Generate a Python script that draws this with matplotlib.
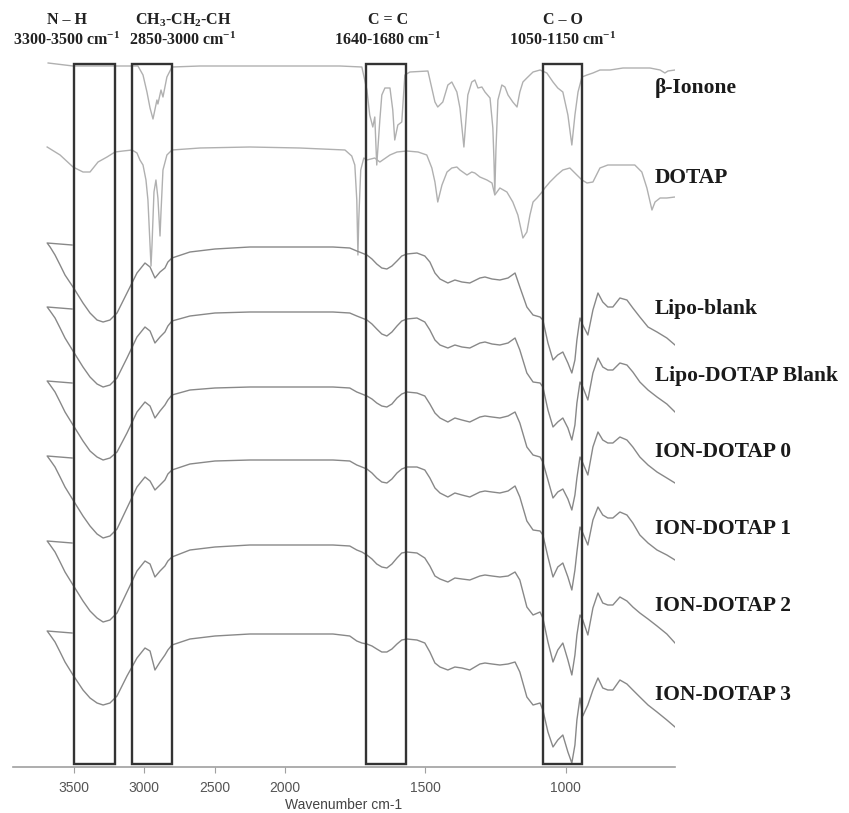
import numpy as np
import matplotlib
matplotlib.use("Agg")
import matplotlib.pyplot as plt
import matplotlib.transforms as mtransforms
from matplotlib.patches import Rectangle

# --- FTIR spectra, stacked (intensity in arbitrary offset units) ---
ionone_wn = [3684, 3507, 3315, 3045, 3009, 2981, 2959, 2938, 2910, 2903, 2881, 2867, 2839, 2803,
             2604, 2249, 1947, 1804, 1726, 1708, 1698, 1687, 1680, 1673, 1662, 1655, 1644, 1626,
             1616, 1609, 1598, 1584, 1573, 1555, 1491, 1466, 1456, 1438, 1420, 1406, 1388, 1377,
             1363, 1349, 1335, 1324, 1313, 1299, 1288, 1270, 1260, 1256, 1253, 1249, 1242, 1228,
             1217, 1206, 1189, 1174, 1164, 1153, 1139, 1117, 1092, 1068, 1046, 1029, 1011, 993,
             979, 968, 957, 943, 925, 904, 879, 843, 797, 747, 701, 665, 648, 637, 612]
ionone_val = [704, 701, 701, 701, 692, 675, 659, 648, 667, 663, 677, 670, 690, 700,
              701, 701, 701, 701, 700, 677, 652, 640, 650, 602, 647, 672, 679, 679,
              657, 627, 642, 645, 692, 695, 696, 665, 660, 665, 682, 685, 675, 659,
              620, 672, 685, 687, 679, 680, 675, 669, 639, 607, 574, 617, 667, 682,
              680, 672, 665, 660, 675, 685, 689, 695, 697, 694, 685, 679, 675, 652,
              622, 652, 675, 690, 692, 694, 697, 697, 699, 699, 699, 697, 694, 696, 697]

dotap_wn = [3691, 3599, 3507, 3436, 3386, 3329, 3265, 3208, 3151, 3087, 3052, 3031, 3009, 2988,
            2974, 2959, 2952, 2945, 2931, 2917, 2903, 2888, 2881, 2867, 2839, 2803, 2604, 2249,
            1947, 1786, 1762, 1751, 1744, 1740, 1737, 1730, 1719, 1708, 1680, 1662, 1626, 1601,
            1566, 1526, 1495, 1477, 1466, 1456, 1441, 1423, 1406, 1388, 1377, 1367, 1352, 1335,
            1324, 1306, 1281, 1263, 1253, 1235, 1210, 1189, 1171, 1153, 1139, 1128, 1117, 1103,
            1085, 1075, 1057, 1032, 1011, 986, 961, 943, 925, 904, 879, 851, 797, 755, 730,
            712, 694, 683, 665, 641, 612]
dotap_val = [620, 612, 600, 595, 595, 605, 610, 615, 616, 617, 614, 607, 602, 587,
             567, 522, 501, 522, 575, 587, 569, 531, 555, 597, 612, 617, 619, 620,
             619, 617, 611, 602, 567, 512, 547, 597, 609, 607, 609, 605, 612, 615,
             616, 615, 612, 599, 585, 565, 582, 595, 599, 600, 597, 595, 592, 595,
             594, 590, 587, 584, 572, 579, 575, 565, 552, 529, 535, 552, 565, 569,
             575, 579, 585, 592, 597, 599, 592, 587, 584, 585, 599, 602, 602, 602, 595,
             579, 557, 565, 569, 569, 570]

# shared wavenumber grid of the liposome samples
lipo_wn = [3514, 3691, 3670, 3635, 3599, 3564, 3507, 3436, 3386, 3336,
           3293, 3244, 3194, 3123, 3052, 2995, 2959, 2924, 2888, 2853,
           2832, 2803, 2675, 2497, 2249, 1947, 1829, 1769, 1744, 1726,
           1708, 1690, 1673, 1655, 1637, 1619, 1601, 1584, 1566, 1530,
           1502, 1484, 1466, 1448, 1420, 1395, 1370, 1342, 1306, 1288,
           1263, 1235, 1206, 1181, 1164, 1139, 1117, 1092, 1082, 1064,
           1046, 1029, 1011, 993, 979, 968, 961, 950, 940, 922,
           904, 886, 869, 851, 833, 808, 783, 762, 737, 708,
           676, 641, 612]
lipo_blank = [522, 524, 520, 512, 502, 492, 480, 464, 454, 447,
              445, 447, 454, 474, 494, 504, 500, 489, 495, 499,
              505, 509, 515, 518, 520, 520, 520, 519, 516, 514,
              512, 508, 503, 499, 498, 501, 506, 511, 513, 514,
              511, 505, 494, 488, 484, 487, 485, 484, 489, 490,
              488, 487, 489, 494, 480, 460, 452, 450, 447, 424,
              407, 412, 415, 404, 394, 407, 427, 449, 442, 432,
              457, 474, 465, 460, 460, 469, 467, 459, 450, 440,
              435, 429, 422]
lipo_dotap_blank = [458, 460, 456, 449, 439, 429, 416, 400, 390, 383,
                    380, 382, 389, 409, 430, 440, 436, 424, 430, 435,
                    441, 446, 451, 454, 455, 455, 455, 454, 451, 449,
                    447, 443, 438, 433, 431, 435, 441, 446, 448, 449,
                    445, 437, 427, 422, 419, 422, 420, 419, 424, 425,
                    423, 422, 424, 429, 417, 394, 385, 384, 380, 357,
                    340, 345, 349, 339, 327, 342, 364, 385, 380, 367,
                    394, 409, 400, 397, 397, 404, 402, 395, 385, 377,
                    370, 363, 355]
ion_dotap_0 = [384, 386, 382, 375, 365, 355, 342, 326, 316, 310,
               307, 309, 315, 334, 355, 365, 361, 349, 356, 362,
               367, 372, 377, 379, 380, 380, 380, 379, 375, 373,
               371, 368, 364, 361, 360, 363, 369, 373, 375, 374,
               371, 363, 354, 349, 345, 349, 347, 345, 350, 351,
               350, 349, 351, 355, 344, 320, 312, 310, 305, 287,
               269, 275, 278, 268, 257, 272, 289, 310, 304, 292,
               320, 335, 327, 324, 324, 330, 327, 320, 310, 302,
               295, 289, 284]
ion_dotap_1 = [309, 311, 307, 300, 290, 280, 267, 251, 241, 233,
               229, 231, 238, 259, 280, 290, 286, 277, 282, 287,
               293, 297, 303, 306, 307, 307, 307, 306, 302, 300,
               298, 294, 289, 285, 284, 288, 294, 298, 300, 300,
               297, 289, 279, 274, 270, 274, 272, 270, 275, 276,
               275, 274, 276, 281, 270, 246, 237, 236, 232, 210,
               190, 200, 204, 190, 177, 197, 215, 240, 234, 222,
               247, 260, 252, 249, 249, 255, 252, 244, 232, 224,
               217, 212, 207]
ion_dotap_2 = [224, 226, 222, 215, 205, 195, 182, 166, 156, 149,
               145, 147, 154, 175, 196, 206, 203, 190, 196, 201,
               206, 210, 217, 220, 222, 222, 222, 221, 217, 215,
               212, 208, 203, 200, 199, 203, 209, 214, 215, 214,
               209, 201, 191, 188, 185, 189, 188, 187, 191, 192,
               191, 190, 191, 195, 187, 160, 152, 155, 149, 125,
               105, 117, 124, 107, 92, 112, 132, 152, 147, 132,
               159, 174, 164, 162, 162, 170, 166, 160, 154, 148,
               141, 133, 124]
ion_dotap_3 = [134, 136, 132, 125, 115, 105, 92, 77, 69, 64,
               62, 64, 71, 91, 109, 119, 116, 97, 105, 112,
               117, 122, 128, 131, 133, 133, 133, 131, 126, 124,
               123, 121, 118, 115, 115, 118, 123, 127, 128, 127,
               124, 115, 104, 100, 97, 100, 99, 97, 103, 104,
               103, 102, 103, 105, 95, 70, 62, 64, 57, 35,
               20, 27, 32, 15, 4, 22, 47, 69, 51, 62,
               77, 89, 79, 77, 77, 87, 83, 77, 70, 62,
               55, 47, 40]

sample_names = ["β-Ionone", "DOTAP", "Lipo-blank", "Lipo-DOTAP Blank",
                "ION-DOTAP 0", "ION-DOTAP 1", "ION-DOTAP 2", "ION-DOTAP 3"]
label_levels = [679, 589, 458, 391, 315, 238, 161, 72]

# band regions (boxes) and their captions
band_names = ["N – H", "CH$_3$-CH$_2$-CH", "C = C", "C – O"]
band_ranges = ["3300-3500 cm$^{-1}$", "2850-3000 cm$^{-1}$",
               "1640-1680 cm$^{-1}$", "1050-1150 cm$^{-1}$"]
box_edges = [(3500, 3208), (3087, 2803), (1712, 1569), (1082, 943)]
caption_x = [3549, 2725, 1633, 1011]

ticks = [3500, 3000, 2500, 2000, 1500, 1000]

plt.rcParams["mathtext.fontset"] = "custom"
plt.rcParams["mathtext.rm"] = "Liberation Serif:bold"
plt.rcParams["mathtext.it"] = "Liberation Serif:italic:bold"
plt.rcParams["mathtext.bf"] = "Liberation Serif:bold"


def forward(x):
    x = np.asarray(x, dtype=float)
    return np.where(x > 2000, 2000 + (x - 2000) * 0.5, x)


def inverse(u):
    u = np.asarray(u, dtype=float)
    return np.where(u > 2000, 2000 + (u - 2000) * 2.0, u)


fig = plt.figure(figsize=(8.49, 8.13), dpi=100)
ax = fig.add_axes([13 / 849, 46 / 813, 662 / 849, 717 / 813])
ax.set_xscale("function", functions=(forward, inverse))
ax.set_xlim(3934, 612)
ax.set_ylim(0, 717)

top_color = "#b0b0b0"
low_color = "#888888"
ax.plot(ionone_wn, ionone_val, color=top_color, lw=1.0)
ax.plot(dotap_wn, dotap_val, color=top_color, lw=1.0)
for vals in [lipo_blank, lipo_dotap_blank, ion_dotap_0, ion_dotap_1, ion_dotap_2, ion_dotap_3]:
    ax.plot(lipo_wn, vals, color=low_color, lw=1.0)

for (hi, lo) in box_edges:
    ax.add_patch(Rectangle((lo, 3), hi - lo, 700, fill=False,
                           edgecolor="#333333", lw=1.7, zorder=3))

for name, rng, xc in zip(band_names, band_ranges, caption_x):
    ax.text(xc, 747, name, ha="center", va="center", fontsize=11.5,
            family="Liberation Serif", fontweight="bold", color="#222222")
    ax.text(xc, 727, rng, ha="center", va="center", fontsize=11.5,
            family="Liberation Serif", fontweight="bold", color="#222222")

trans = mtransforms.blended_transform_factory(ax.transAxes, ax.transData)
for name, lvl in zip(sample_names, label_levels):
    ax.text(0.97, lvl, name, transform=trans, ha="left", va="center",
            fontsize=15.5, family="Liberation Serif", fontweight="bold",
            color="#1a1a1a", clip_on=False)

for side in ["top", "left", "right"]:
    ax.spines[side].set_visible(False)
ax.spines["bottom"].set_color("#a0a0a0")
ax.spines["bottom"].set_linewidth(1.2)
ax.set_yticks([])
ax.set_xticks(ticks)
ax.set_xticklabels([str(t) for t in ticks], fontsize=10, family="Liberation Sans", color="#555555")
ax.xaxis.set_minor_locator(matplotlib.ticker.NullLocator())
ax.tick_params(axis="x", direction="out", length=4, color="#a0a0a0", pad=6)
ax.set_xlabel("Wavenumber cm-1", fontsize=10, family="Liberation Sans", color="#444444", labelpad=2)
ax.patch.set_alpha(0)

fig.savefig("out.png", dpi=100)
